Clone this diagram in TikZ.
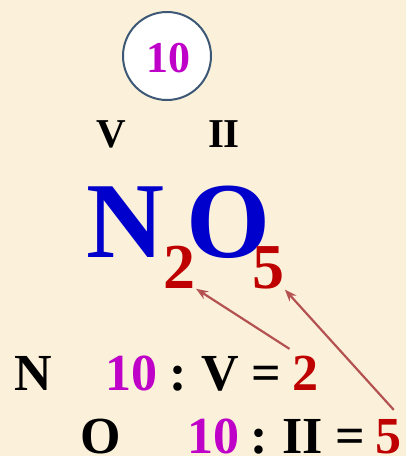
\documentclass[tikz,border=0pt]{standalone}
\usepackage{fontspec}
\setmainfont{Liberation Serif}
\usepackage{xcolor}
\usetikzlibrary{positioning, arrows.meta}

\definecolor{parchment}{RGB}{251,241,218}
\definecolor{valmag}{RGB}{190,0,200}
\definecolor{atomblue}{RGB}{0,0,205}
\definecolor{idxred}{RGB}{190,0,0}
\definecolor{ringblue}{RGB}{60,88,118}
\definecolor{linkred}{RGB}{180,82,82}

\begin{document}
\begin{tikzpicture}[
    x=1pt, y=-1pt,
    txt/.style={inner sep=0pt, font=\fontsize{52}{60}\selectfont\bfseries},
    small/.style={inner sep=0pt, font=\fontsize{41}{48}\selectfont\bfseries},
    atom/.style={inner sep=0pt, text=atomblue, font=\fontsize{108}{120}\selectfont\bfseries},
    sub/.style={inner sep=0pt, text=idxred, font=\fontsize{64}{72}\selectfont\bfseries},
    link/.style={-{Stealth[length=12pt, width=9pt]}, linkred, line width=2.2pt}
]
    \fill[parchment] (0,0) rectangle (406,456);
    \useasboundingbox (0,0) rectangle (406,456);

    % lcm in the ring
    \node[circle, draw=ringblue, line width=2pt, fill=white, minimum size=88pt, inner sep=0pt] (ring) at (167,56) {};
    \node[small, text=valmag, font=\fontsize{44}{50}\selectfont\bfseries, anchor=base] (lcm) at (168,72) {10};

    % valences
    \node[small, anchor=base] (valN) at (111,147) {V};
    \node[small, anchor=base] (valO) at (224,147) {II};

    % formula
    \node[atom, anchor=base] (atomN) at (125,257) {N};
    \node[atom, anchor=base] (atomO) at (229,257) {O};
    \node[sub, anchor=base] (sub2) at (179,288) {2};
    \node[sub, anchor=base] (sub5) at (268,288) {5};

    % first row
    \node[txt, anchor=base west] (rowN) at (14,390) {N};
    \node[txt, text=valmag, base right=53pt of rowN] (lcmN) {10};
    \node[txt, base right=12pt of lcmN] (divN) {:\hspace{-3pt} V =};
    \node[txt, text=idxred, base right=11pt of divN] (two) {2};

    % second row
    \node[txt, anchor=base west] (rowO) at (80,453) {O};
    \node[txt, text=valmag, base right=66pt of rowO] (lcmO) {10};
    \node[txt, base right=11pt of lcmO] (divO) {:\hspace{-3pt} II =};
    \node[txt, text=idxred, base right=10pt of divO] (five) {5};

    \draw[link, shorten <=12pt, shorten >=1pt] ([xshift=7pt]two.north west) -- (sub2.south east);
    \draw[link, shorten <=12pt, shorten >=1pt] (five.north east) -- (sub5.south east);
\end{tikzpicture}
\end{document}
